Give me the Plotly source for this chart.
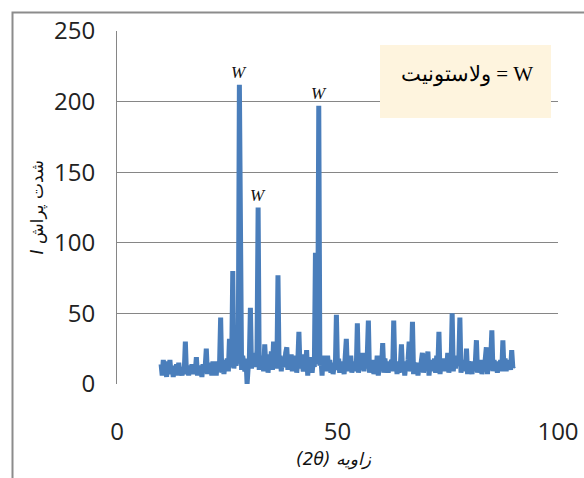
import plotly.graph_objects as go

# 2-theta angles (degrees), 8 per row
angle = [
    10.0, 10.25, 10.5, 10.75, 11.0, 11.25, 11.5, 11.75,
    12.0, 12.25, 12.5, 12.75, 13.0, 13.25, 13.5, 13.75,
    14.0, 14.25, 14.5, 14.75, 15.0, 15.25, 15.5, 15.75,
    16.0, 16.25, 16.5, 16.75, 17.0, 17.25, 17.5, 17.75,
    18.0, 18.25, 18.5, 18.75, 19.0, 19.25, 19.5, 19.75,
    20.0, 20.25, 20.5, 20.75, 21.0, 21.25, 21.5, 21.75,
    22.0, 22.25, 22.5, 22.75, 23.0, 23.25, 23.5, 23.75,
    24.0, 24.25, 24.5, 24.75, 25.0, 25.25, 25.5, 25.75,
    26.0, 26.25, 26.5, 26.75, 27.0, 27.25, 27.5, 27.75,
    28.0, 28.25, 28.5, 28.75, 29.0, 29.25, 29.5, 29.75,
    30.0, 30.25, 30.5, 30.75, 31.0, 31.25, 31.5, 31.75,
    32.0, 32.25, 32.5, 32.75, 33.0, 33.25, 33.5, 33.75,
    34.0, 34.25, 34.5, 34.75, 35.0, 35.25, 35.5, 35.75,
    36.0, 36.25, 36.5, 36.75, 37.0, 37.25, 37.5, 37.75,
    38.0, 38.25, 38.5, 38.75, 39.0, 39.25, 39.5, 39.75,
    40.0, 40.25, 40.5, 40.75, 41.0, 41.25, 41.5, 41.75,
    42.0, 42.25, 42.5, 42.75, 43.0, 43.25, 43.5, 43.75,
    44.0, 44.25, 44.5, 44.75, 45.0, 45.25, 45.5, 45.75,
    46.0, 46.25, 46.5, 46.75, 47.0, 47.25, 47.5, 47.75,
    48.0, 48.25, 48.5, 48.75, 49.0, 49.25, 49.5, 49.75,
    50.0, 50.25, 50.5, 50.75, 51.0, 51.25, 51.5, 51.75,
    52.0, 52.25, 52.5, 52.75, 53.0, 53.25, 53.5, 53.75,
    54.0, 54.25, 54.5, 54.75, 55.0, 55.25, 55.5, 55.75,
    56.0, 56.25, 56.5, 56.75, 57.0, 57.25, 57.5, 57.75,
    58.0, 58.25, 58.5, 58.75, 59.0, 59.25, 59.5, 59.75,
    60.0, 60.25, 60.5, 60.75, 61.0, 61.25, 61.5, 61.75,
    62.0, 62.25, 62.5, 62.75, 63.0, 63.25, 63.5, 63.75,
    64.0, 64.25, 64.5, 64.75, 65.0, 65.25, 65.5, 65.75,
    66.0, 66.25, 66.5, 66.75, 67.0, 67.25, 67.5, 67.75,
    68.0, 68.25, 68.5, 68.75, 69.0, 69.25, 69.5, 69.75,
    70.0, 70.25, 70.5, 70.75, 71.0, 71.25, 71.5, 71.75,
    72.0, 72.25, 72.5, 72.75, 73.0, 73.25, 73.5, 73.75,
    74.0, 74.25, 74.5, 74.75, 75.0, 75.25, 75.5, 75.75,
    76.0, 76.25, 76.5, 76.75, 77.0, 77.25, 77.5, 77.75,
    78.0, 78.25, 78.5, 78.75, 79.0, 79.25, 79.5, 79.75,
    80.0, 80.25, 80.5, 80.75, 81.0, 81.25, 81.5, 81.75,
    82.0, 82.25, 82.5, 82.75, 83.0, 83.25, 83.5, 83.75,
    84.0, 84.25, 84.5, 84.75, 85.0, 85.25, 85.5, 85.75,
    86.0, 86.25, 86.5, 86.75, 87.0, 87.25, 87.5, 87.75,
    88.0, 88.25, 88.5, 88.75, 89.0, 89.25, 89.5, 89.75,
    90.0,
]

# Diffraction intensity, same layout as angle
intensity = [
    14, 6, 17, 8, 15, 5, 16, 9,
    17, 7, 13, 5, 12, 8, 14, 6,
    15, 8, 11, 6, 12, 9, 30, 7,
    13, 6, 12, 8, 14, 7, 12, 9,
    19, 6, 13, 8, 11, 5, 14, 8,
    12, 25, 7, 15, 9, 13, 6, 16,
    8, 14, 6, 16, 9, 13, 47, 8,
    17, 7, 15, 10, 18, 9, 32, 12,
    16, 80, 11, 20, 13, 18, 22, 212,
    15, 10, 20, 14, 9, 18, 0, 12,
    16, 54, 11, 22, 14, 20, 12, 24,
    125, 10, 20, 13, 18, 9, 28, 12,
    21, 8, 18, 12, 23, 10, 30, 14,
    18, 11, 77, 13, 20, 9, 19, 15,
    12, 22, 26, 10, 18, 13, 21, 9,
    17, 12, 20, 8, 16, 37, 11, 20,
    14, 9, 21, 13, 24, 6, 17, 12,
    19, 8, 16, 12, 93, 20, 14, 197,
    13, 18, 6, 20, 10, 16, 9, 20,
    12, 17, 8, 15, 7, 13, 10, 49,
    11, 18, 8, 16, 10, 14, 7, 17,
    32, 9, 18, 12, 20, 8, 15, 11,
    16, 9, 43, 8, 18, 10, 14, 22,
    9, 17, 11, 20, 45, 8, 16, 10,
    17, 7, 14, 9, 20, 6, 15, 11,
    13, 29, 8, 18, 10, 16, 8, 15,
    12, 17, 9, 45, 10, 16, 7, 15,
    8, 13, 28, 9, 16, 6, 14, 10,
    17, 30, 9, 14, 44, 7, 15, 11,
    15, 6, 13, 9, 16, 22, 8, 14,
    10, 17, 23, 6, 15, 9, 17, 11,
    18, 8, 20, 12, 37, 7, 16, 10,
    18, 9, 15, 11, 22, 8, 17, 12,
    50, 9, 18, 11, 20, 13, 16, 47,
    8, 17, 10, 15, 9, 25, 7, 16,
    11, 14, 7, 16, 9, 15, 31, 8,
    15, 10, 17, 7, 14, 9, 18, 26,
    7, 16, 10, 18, 38, 9, 17, 11,
    16, 8, 15, 10, 17, 9, 31, 10,
    18, 9, 16, 11, 17, 10, 24, 12,
    13,
]

# Wollastonite peak markers
w_angle = [27.75, 32.0, 45.75]
w_intensity = [212, 125, 197]
w_label = "W"

y_ticks = [0, 50, 100, 150, 200, 250]
x_ticks = [0, 50, 100]

legend_text = "ولاستونیت = W"
y_title = "<i>I</i> شدت پراش"
x_title = "(2θ) زاویه"

# plot-area geometry in page pixels (for placing the decorations)
W_PX, H_PX = 584, 478
PL, PR, PT, PB = 117, 558, 31, 384
PW, PH = PR - PL, PB - PT


def px(xp):
    return (xp - PL) / PW


def py(yp):
    return (PB - yp) / PH


fig = go.Figure()
fig.add_trace(go.Scatter(
    x=angle, y=intensity, mode="lines",
    line=dict(color="#4A7EBB", width=5),
    showlegend=False, hoverinfo="skip",
))

for xa, ya in zip(w_angle, w_intensity):
    fig.add_annotation(
        x=xa, y=ya, text="<i>" + w_label + "</i>", showarrow=False,
        xanchor="center", yanchor="bottom", yshift=1, xshift=0,
        font=dict(family="Liberation Serif", size=17, color="#111111"),
    )

# legend-like note box
fig.add_shape(type="rect", xref="paper", yref="paper",
              x0=px(380), x1=px(551), y0=py(118), y1=py(45),
              fillcolor="#FEF4DE", line=dict(width=0), layer="above")
fig.add_annotation(xref="paper", yref="paper",
                   x=px(467), y=py(74), xanchor="center", yanchor="middle",
                   text=legend_text, showarrow=False,
                   font=dict(family="Liberation Serif", size=21, color="#000000"))

# outer chart frame (cut off at the right and bottom)
fig.add_shape(type="rect", xref="paper", yref="paper",
              x0=px(12.5), x1=1.2, y0=-0.5, y1=py(12.5),
              line=dict(color="#8C8C8C", width=2), fillcolor="rgba(0,0,0,0)")

# axis titles
fig.add_annotation(xref="paper", yref="paper",
                   x=px(37), y=0.5, xanchor="center", yanchor="middle",
                   textangle=-90, text=y_title, showarrow=False,
                   font=dict(family="DejaVu Sans", size=17, color="#111111"))
fig.add_annotation(xref="paper", yref="paper",
                   x=px(334), y=py(459), xanchor="center", yanchor="middle",
                   text="<i>" + x_title + "</i>", showarrow=False,
                   font=dict(family="DejaVu Sans", size=17, color="#111111"))

fig.update_layout(
    width=W_PX, height=H_PX,
    margin=dict(l=PL, r=W_PX - PR, t=PT, b=H_PX - PB, autoexpand=False),
    paper_bgcolor="white", plot_bgcolor="white",
    showlegend=False,
)
fig.update_xaxes(
    range=[0, 100], tickvals=x_ticks, showgrid=False, zeroline=False,
    showline=False, ticks="outside", ticklen=26, tickcolor="rgba(0,0,0,0)",
    tickfont=dict(family="Open Sans", size=24, color="#222222"),
    automargin=False,
)
fig.update_yaxes(
    range=[0, 250], tickvals=y_ticks, showgrid=True, gridcolor="#868686",
    gridwidth=1, zeroline=False, showline=True, linecolor="#868686",
    linewidth=1, ticks="outside", ticklen=16, tickcolor="rgba(0,0,0,0)",
    tickfont=dict(family="Open Sans", size=24, color="#222222"),
    automargin=False,
)

fig.write_html(
    "out.html",
    config={"displayModeBar": False},
    post_script="document.body.style.margin='0px';"
                "document.body.style.overflow='hidden';",
)
